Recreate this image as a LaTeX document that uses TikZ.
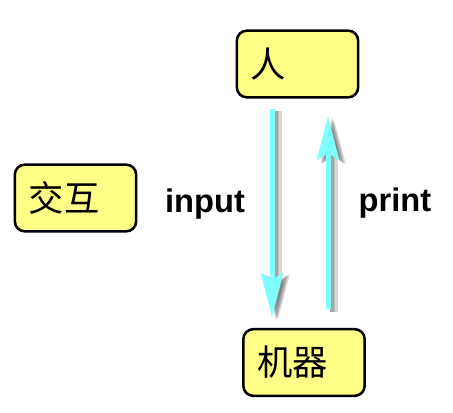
\documentclass[tikz,border=0pt]{standalone}
\usepackage{fontspec}
\setsansfont{Liberation Sans}
\newfontfamily\cjk{Noto Sans CJK SC}
\usepackage{tikz}
\usetikzlibrary{arrows.meta}

\definecolor{boxyellow}{RGB}{255,255,136}
\definecolor{flowcyan}{RGB}{128,255,255}

\tikzset{
  talkbox/.style={draw, line width=1.9pt, rounded corners=7.5pt, fill=boxyellow,
    minimum height=50pt, text width=70pt, inner xsep=10.5pt, align=left,
    font=\cjk\fontsize{26.5}{30}\selectfont},
  flow/.style={draw=flowcyan, line width=3.75pt,
    -{Stealth[length=33pt, width=16.5pt, inset=5pt]}},
  flowshade/.style={draw=black!60, line width=#1, opacity=0.25,
    -{Stealth[length=33pt, width=16.5pt, inset=5pt]}},
  flowlabel/.style={inner sep=0pt, font=\sffamily\bfseries\fontsize{24.5}{28}\selectfont}
}

\begin{document}
\begin{tikzpicture}[x=0.75pt,y=0.75pt,yscale=-1]
\useasboundingbox (0,0) rectangle (453,413);

% Boxes
\node [talkbox] (human) at (297.5,64) {人};
\node [talkbox] (machine) at (304,362.5) {机器};
\node [talkbox] (talk) at (75.5,198) {交互};

% Arrow columns
\coordinate (inx) at (272,0);
\coordinate (outx) at (328,0);

% Shadows of the arrows
\foreach \sw/\dx in {6pt/4.5pt, 3.75pt/3.5pt, 2.5pt/3pt} {
  \draw [flowshade=\sw, transform canvas={xshift=\dx,yshift=-2pt}] ([yshift=7.5pt]human.south -| inx) -- ([yshift=-8pt]machine.north -| inx);
  \draw [flowshade=\sw, transform canvas={xshift=\dx,yshift=-2pt}] ([yshift=-14pt]machine.north -| outx) -- ([yshift=13pt]human.south -| outx);
}

% Arrows
\draw [flow] ([yshift=7.5pt]human.south -| inx) -- ([yshift=-8pt]machine.north -| inx);
\draw [flow] ([yshift=-14pt]machine.north -| outx) -- ([yshift=13pt]human.south -| outx);

% Text Node
\node [flowlabel] (input) at (205,204) {input};
% Text Node
\node [flowlabel] (print) at (395,203.5) {print};

\end{tikzpicture}
\end{document}
